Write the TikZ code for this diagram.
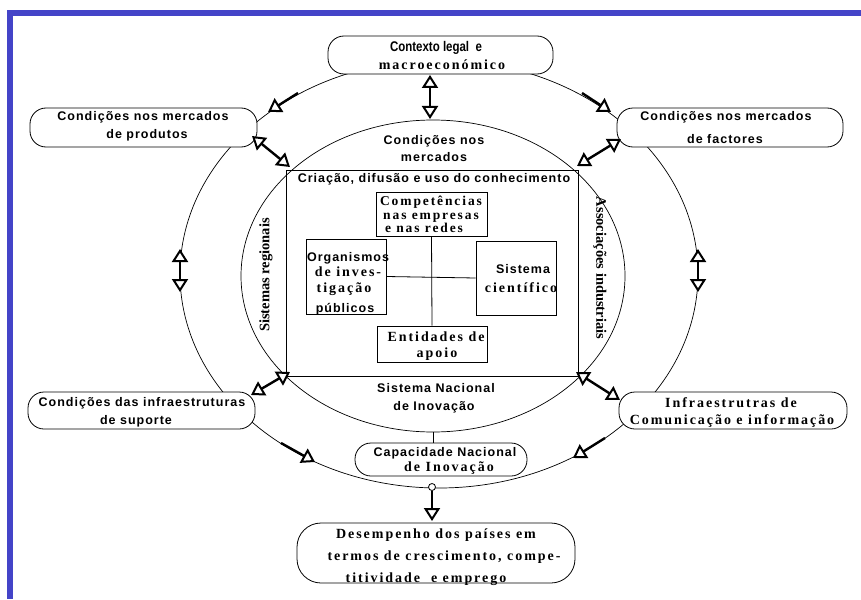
\documentclass[tikz,border=0pt]{standalone}
\usepackage{fontspec}
\usetikzlibrary{arrows.meta,shapes.geometric}
\setmainfont{Liberation Serif}
\newfontfamily\lblsans[LetterSpace=8]{Liberation Sans}
\newfontfamily\lblserif[LetterSpace=14]{Liberation Serif}
\newfontfamily\lblnarrow[FakeStretch=0.82]{Liberation Sans}
\newfontfamily\lblside{Liberation Serif}
\definecolor{blueframe}{RGB}{68,68,200}

\tikzset{
  ring/.style={draw, line width=0.7pt, inner sep=0pt},
  pill/.style={draw, fill=white, line width=0.8pt, rounded corners=16pt, inner sep=0pt},
  panel/.style={draw, line width=0.8pt, inner sep=0pt},
  sanslbl/.style={anchor=base, inner sep=0pt, font=\lblsans\bfseries\fontsize{12.5}{15}\selectfont},
  seriflbl/.style={anchor=base, inner sep=0pt, font=\lblserif\bfseries\fontsize{14}{16}\selectfont},
  smallserif/.style={anchor=base, inner sep=0pt, font=\lblserif\bfseries\fontsize{13.5}{15}\selectfont},
  narrowlbl/.style={anchor=base, inner sep=0pt, font=\lblnarrow\bfseries\fontsize{14}{16}\selectfont},
  sidelbl/.style={inner sep=0pt, font=\lblside\bfseries\fontsize{14.5}{16}\selectfont},
  tip/.style={Triangle[fill=white, length=13pt, width=16pt, line width=2pt]},
  link/.style={line width=2.4pt, -{Triangle[fill=white, length=13pt, width=16pt, line width=2pt]}},
  dlink/.style={line width=2.4pt, {Triangle[fill=white, length=13pt, width=16pt, line width=2pt]}-{Triangle[fill=white, length=13pt, width=16pt, line width=2pt]}},
}

\begin{document}
\begin{tikzpicture}[x=1pt, y=-1pt]
\useasboundingbox (0,0) rectangle (861,599);
\fill[white] (0,0) rectangle (861,599);

% page frame
\fill[blueframe] (7,10) rectangle (861,16);
\fill[blueframe] (7,10) rectangle (13,599);

% outer and inner rings
\node[ring, ellipse, minimum width=518pt, minimum height=428pt] (outer) at (439,274) {};
\node[ring, ellipse, minimum width=384pt, minimum height=312pt] (inner) at (433,276) {};

% national innovation system panel
\node[panel, minimum width=292pt, minimum height=206pt] (sni) at (432,273) {};
\node[panel, minimum width=111pt, minimum height=44pt] (comp) at (431.5,214) {};
\node[panel, minimum width=80pt, minimum height=75pt] (org) at (346,276.5) {};
\node[panel, minimum width=80pt, minimum height=74pt] (sci) at (516,278) {};
\node[panel, minimum width=110pt, minimum height=36pt] (ent) at (432,344) {};
\draw[line width=0.8pt] (comp.south) -- (ent.north);
\draw[line width=0.8pt] (org.east) -- (sci.west);

% outer boxes
\node[pill, minimum width=225pt, minimum height=38pt] (ctx) at (440.5,55) {};
\node[pill, minimum width=227pt, minimum height=39pt] (prod) at (143.5,127.5) {};
\node[pill, minimum width=226pt, minimum height=39pt] (fact) at (730,127.5) {};
\node[pill, minimum width=227pt, minimum height=37pt] (supp) at (141.5,410.5) {};
\node[pill, minimum width=228pt, minimum height=37pt] (comm) at (733,410.5) {};
\node[pill, minimum width=172pt, minimum height=33pt] (cap) at (441,459.5) {};
\node[pill, rounded corners=24pt, minimum width=278pt, minimum height=60pt] (perf) at (436,553) {};

\draw[line width=0.8pt] (inner.south) -- (inner.south |- cap.north);

% junction and result arrow
\node[circle, draw, fill=white, line width=0.8pt, minimum size=7pt, inner sep=0pt] (join) at (432,487) {};
\coordinate (perfIn) at (432,521);
\draw[link] (join.south) -- (perfIn);

% arrows along the outer ring
\coordinate (r1s) at (298,93);  \coordinate (r1e) at (268,112);
\coordinate (r2s) at (582,93);  \coordinate (r2e) at (611,112);
\coordinate (r3s) at (281,443); \coordinate (r3e) at (315,462);
\coordinate (r4s) at (605,438); \coordinate (r4e) at (573,458);
\draw[link] (r1s) -- (r1e);
\draw[link] (r2s) -- (r2e);
\draw[link] (r3s) -- (r3e);
\draw[link] (r4s) -- (r4e);

\coordinate (lA) at (180,249); \coordinate (lB) at (180,292);
\coordinate (rA) at (698,249); \coordinate (rB) at (698,292);
\draw[dlink] (lA) -- (lB);
\draw[dlink] (rA) -- (rB);

% links between outer boxes and the inner system
\coordinate (tA) at (430,75);  \coordinate (tB) at (430,119);
\coordinate (pA) at (252,136); \coordinate (pB) at (290,167);
\coordinate (fA) at (621,139); \coordinate (fB) at (577,166);
\coordinate (sA) at (251,395); \coordinate (sB) at (290,372);
\coordinate (cA) at (620,400); \coordinate (cB) at (576,372);
\draw[dlink] (tA) -- (tB);
\draw[dlink] (pA) -- (pB);
\draw[dlink] (fA) -- (fB);
\draw[dlink] (sA) -- (sB);
\draw[dlink] (cA) -- (cB);

% texts of the outer boxes
\node[narrowlbl] (ctx1) at (436,52) {Contexto legal\ \ e};
\node[seriflbl] (ctx2) at (442,70) {macroeconómico};
\node[sanslbl] (prod1) at (143,121) {Condições nos mercados};
\node[sanslbl] (prod2) at (147,139) {de produtos};
\node[sanslbl] (fact1) at (726,121) {Condições nos mercados};
\node[sanslbl] (fact2) at (725,143) {de factores};
\node[sanslbl] (supp1) at (142,406) {Condições das infraestruturas};
\node[sanslbl] (supp2) at (136,424) {de suporte};
\node[seriflbl] (comm1) at (731,407) {Infraestrutras de};
\node[seriflbl] (comm2) at (732,424) {Comunicação e informação};
\node[sanslbl] (cap1) at (445,456) {Capacidade Nacional};
\node[seriflbl] (cap2) at (449,471) {de Inovação};
\node[seriflbl] (perf1) at (436,538) {Desempenho dos países em};
\node[seriflbl] (perf2) at (444,560) {termos de crescimento, compe-};
\node[seriflbl] (perf3) at (426,582) {titividade\ \ e emprego};

% texts of the inner ring and panel
\node[sanslbl] (mk1) at (434,144) {Condições nos};
\node[sanslbl] (mk2) at (434,161) {mercados};
\node[sanslbl] (sn1) at (436,392) {Sistema Nacional};
\node[sanslbl] (sn2) at (434,410) {de Inovação};
\node[sanslbl] (know) at (434,182) {Criação, difusão e uso do conhecimento};
\node[smallserif] (comp1) at (431,205) {Competências};
\node[smallserif] (comp2) at (431,219) {nas empresas};
\node[smallserif] (comp3) at (424,232.5) {e nas redes};
\node[sanslbl] (org1) at (348,261) {Organismos};
\node[seriflbl] (org2) at (348,276) {de inves-};
\node[seriflbl] (org3) at (344,292) {tigação};
\node[sanslbl] (org4) at (345,312) {públicos};
\node[sanslbl] (sci1) at (523,273) {Sistema};
\node[seriflbl] (sci2) at (521,292) {científico};
\node[seriflbl] (ent1) at (436,341) {Entidades de};
\node[seriflbl] (ent2) at (437,357) {apoio};
\node[sidelbl, rotate=90] (reg) at (266,275) {Sistemas regionais};
\node[sidelbl, rotate=-90] (ind) at (600,268) {Associações industriais};
\end{tikzpicture}
\end{document}
